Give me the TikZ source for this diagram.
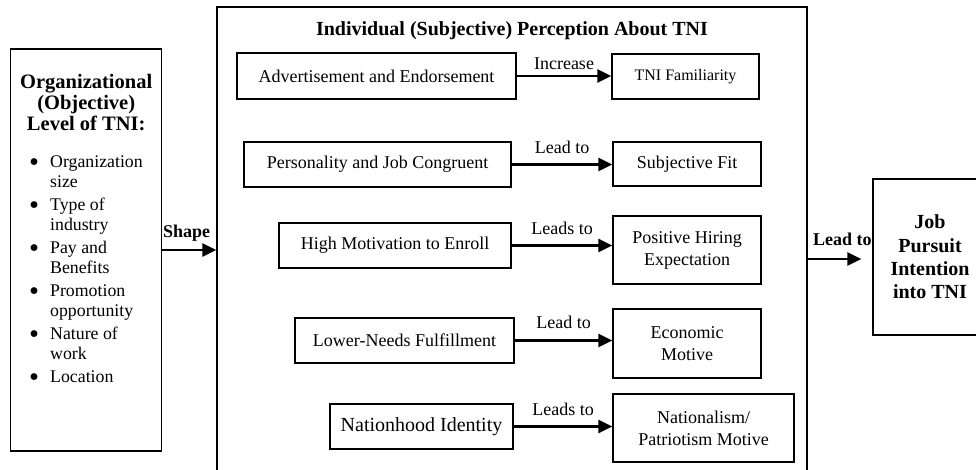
\documentclass[tikz,border=0pt]{standalone}
\usepackage{fontspec}
\usepackage{graphicx}
\setmainfont{Liberation Serif}
\usetikzlibrary{arrows.meta}
\newcommand{\orgbullet}{\raisebox{-4.2pt}{\scalebox{1.6}{\textbullet}}}

\begin{document}
\begin{tikzpicture}[x=1pt,y=-1pt,
        box/.style={draw,line width=1.2pt,inner sep=0pt,align=center},
        factor/.style={box,minimum height=45pt,font=\fontsize{18}{22}\selectfont},
        outcome/.style={box,minimum width=148pt,font=\fontsize{18}{22}\selectfont},
        link/.style={line width=2.6pt,-{Triangle[length=14pt,width=13pt]}},
        linklabel/.style={anchor=south,inner sep=0pt,font=\fontsize{18}{22}\selectfont},
        boldlabel/.style={anchor=base west,inner sep=0pt,font=\bfseries\fontsize{18}{22}\selectfont}]
            \useasboundingbox (0,0) rectangle (976,469);

            \node[box,minimum width=151pt,minimum height=402pt] (org) at (86.2,250) {};
            \node[anchor=north,align=center,inner sep=0pt,font=\bfseries\fontsize{20.5}{21}\selectfont] (orgtitle) at (86.2,74) {Organizational\\(Objective)\\Level of TNI:};
            \node[anchor=north west,inner sep=0pt,font=\fontsize{17.8}{20}\selectfont] (orglist) at (29,153) {%
                \begin{tabular}{@{}l@{\hspace{11pt}}l@{}}
                    \orgbullet & Organization\\
                               & size\\[3pt]
                    \orgbullet & Type of\\
                               & industry\\[3pt]
                    \orgbullet & Pay and\\
                               & Benefits\\[3pt]
                    \orgbullet & Promotion\\
                               & opportunity\\[3pt]
                    \orgbullet & Nature of\\
                               & work\\[3pt]
                    \orgbullet & Location
                \end{tabular}};

            \node[box,minimum width=590pt,minimum height=470pt] (percep) at (512,242) {};
            \node[anchor=base,inner sep=0pt,font=\bfseries\fontsize{20}{24}\selectfont] (perceptitle) at (512,35) {Individual (Subjective) Perception About TNI};

            \node[factor,minimum width=279pt,minimum height=46pt] (advert) at (376.5,76) {Advertisement and Endorsement};
            \node[outcome,minimum width=147pt,minimum height=45pt,font=\fontsize{16}{20}\selectfont] (familiar) at (685.5,76.5) {TNI Familiarity};
            \node[factor,minimum width=267pt] (person) at (377.5,164.5) {Personality and Job Congruent};
            \node[outcome,minimum height=44pt] (fit) at (687,164) {Subjective Fit};
            \node[factor,minimum width=232pt] (motiv) at (395,245.5) {High Motivation to Enroll};
            \node[outcome,minimum height=68pt] (hiring) at (687,250) {Positive Hiring\\Expectation};
            \node[factor,minimum width=219pt] (needs) at (404.5,340.5) {Lower-Needs Fulfillment};
            \node[outcome,minimum height=69pt] (econ) at (687,343.5) {Economic\\Motive};
            \node[factor,minimum width=183pt,font=\fontsize{20}{24}\selectfont] (nation) at (421.5,426.5) {Nationhood Identity};
            \node[outcome,minimum width=181pt,minimum height=68pt] (patriot) at (703.5,428) {Nationalism/\\Patriotism Motive};

            \node[box,minimum width=114pt,minimum height=156pt,font=\bfseries\fontsize{20}{23.3}\selectfont] (job) at (930,257) {Job\\Pursuit\\Intention\\into TNI};

            \draw[link] (advert.east) -- (advert.east -| familiar.west) node[linklabel,midway,yshift=5pt] (incr) {Increase};
            \draw[link] (person.east) -- (person.east -| fit.west) node[linklabel,midway,yshift=10pt] (leadfit) {Lead to};
            \draw[link] (motiv.east) -- (motiv.east -| hiring.west) node[linklabel,midway,yshift=10pt] (leadhiring) {Leads to};
            \draw[link] (needs.east) -- (needs.east -| econ.west) node[linklabel,midway,yshift=11pt] (leadecon) {Lead to};
            \draw[link] (nation.east) -- (nation.east -| patriot.west) node[linklabel,midway,yshift=10pt] (leadpatriot) {Leads to};

            \draw[link] (org.east) -- (org.east -| percep.west);
            \node[boldlabel] (shapelbl) at (163,237) {Shape};

            \coordinate (jobtip) at ([xshift=-11pt,yshift=-2pt]job.west);
            \draw[link] (percep.east |- jobtip) -- (jobtip);
            \node[boldlabel] (leadjob) at (813,245) {Lead to};
        \end{tikzpicture}
\end{document}
